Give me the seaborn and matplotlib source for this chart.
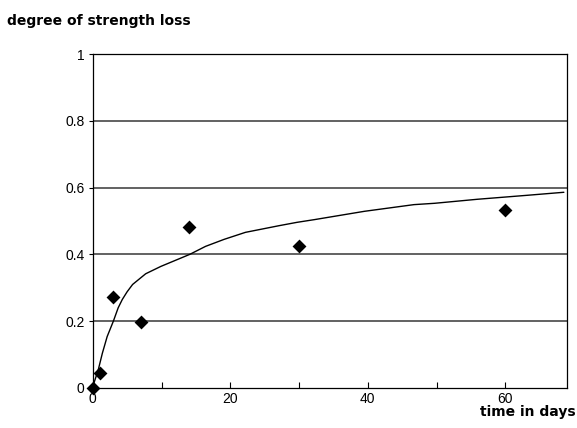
import matplotlib
matplotlib.use("Agg")
import matplotlib.pyplot as plt
import seaborn as sns
import pandas as pd

# measured points
days = [0, 1, 3, 7, 14, 30, 60]
loss = [0.0, 0.044, 0.272, 0.199, 0.481, 0.424, 0.534]

# trend curve
curve_days = [0.1, 0.8, 1.4, 2.1, 3.0, 3.7, 4.3, 5.0, 5.8, 7.7, 9.9, 14.1,
              16.4, 19.1, 22.2, 27.1, 29.7, 32.2, 39.5, 46.7, 49.7, 55.9,
              63.2, 68.5]
curve_loss = [0.01, 0.054, 0.104, 0.154, 0.2, 0.24, 0.265, 0.288, 0.31, 0.342,
              0.364, 0.4, 0.424, 0.445, 0.466, 0.486, 0.496, 0.504, 0.529,
              0.549, 0.553, 0.565, 0.577, 0.586]

y_ticks = [0, 0.2, 0.4, 0.6, 0.8, 1]
y_labels = ["0", "0.2", "0.4", "0.6", "0.8", "1"]
x_ticks = [0, 20, 40, 60]

sns.set_style("white")
plt.rcParams['font.family'] = ['Liberation Sans', 'DejaVu Sans']
plt.rcParams['text.color'] = 'black'
plt.rcParams['xtick.color'] = 'black'
plt.rcParams['ytick.color'] = 'black'

pts = pd.DataFrame({"days": days, "loss": loss})
trend = pd.DataFrame({"days": curve_days, "loss": curve_loss})

fig = plt.figure(figsize=(5.77, 4.28), dpi=100)
ax = fig.add_axes([0.1607, 0.0935, 0.8225, 0.7803])

# grid lines
for v in y_ticks[1:-1]:
    ax.axhline(v, color="#555555", lw=1.3, zorder=0)

sns.lineplot(data=trend, x="days", y="loss", color="black", lw=1.0, ax=ax)
sns.scatterplot(data=pts, x="days", y="loss", marker="D", s=50, color="black",
                edgecolor="black", linewidth=0, ax=ax, zorder=5, clip_on=False)

ax.set_xlim(0, 69)
ax.set_ylim(0, 1)
ax.set_xticks(x_ticks)
ax.set_xticks([10, 30, 50], minor=True)
ax.set_yticks(y_ticks)
ax.set_yticklabels(y_labels)
ax.tick_params(axis="x", which="both", direction="in", length=4, width=0.8,
               labelsize=10, pad=3, bottom=True, colors="black")
ax.tick_params(axis="y", direction="out", length=3, width=0.8,
               labelsize=10, pad=3, left=True, colors="black")
ax.set_xlabel("")
ax.set_ylabel("")

for s in ax.spines.values():
    s.set_color("black")
    s.set_linewidth(0.9)

fig.text(0.012, 0.951, "degree of strength loss", fontsize=10,
         fontweight="bold", family="DejaVu Sans", ha="left", va="center",
         color="black")
fig.text(0.998, 0.027, "time in days", fontsize=10, fontweight="bold",
         family="DejaVu Sans", ha="right", va="baseline", color="black")

fig.savefig("out.png", dpi=100)
